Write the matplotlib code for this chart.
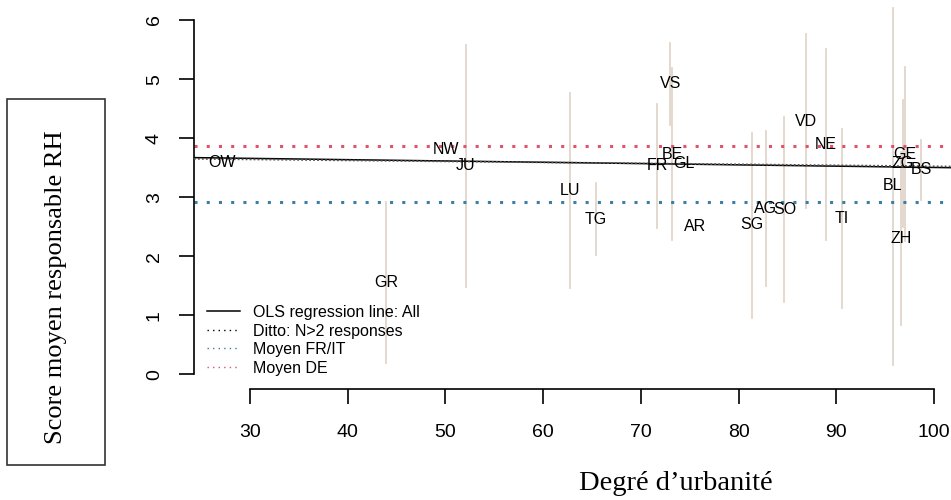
import numpy as np
import matplotlib.pyplot as plt
from matplotlib.lines import Line2D
from matplotlib.patches import Rectangle

# Canton data: degree of urbanity vs mean HR-responsibility score
cantons = ["OW", "GR", "NW", "JU", "LU", "TG", "FR", "VS", "BE", "GL", "AR",
           "SG", "AG", "SO", "VD", "NE", "TI", "BL", "ZH", "ZG", "GE", "BS"]
urbanite = [27.1, 43.9, 50.1, 52.1, 62.7, 65.4, 71.7, 73.0, 73.2, 74.4, 75.5,
            81.4, 82.8, 84.7, 86.9, 88.9, 90.6, 95.8, 96.6, 96.8, 97.0, 98.7]
score = [3.58, 1.56, 3.80, 3.54, 3.11, 2.63, 3.53, 4.92, 3.73, 3.57, 2.50,
         2.53, 2.81, 2.79, 4.28, 3.90, 2.64, 3.19, 2.30, 3.57, 3.73, 3.46]
# spread of the answers per canton (nan = too few responses)
score_low = [np.nan, 0.19, np.nan, 1.48, 1.46, 2.02, 2.47, 4.22, 2.27, np.nan, np.nan,
             0.95, 1.50, 1.22, 2.81, 2.28, 1.13, 0.16, 0.83, 2.50, 2.26, 2.95]
score_high = [np.nan, 2.92, np.nan, 5.58, 4.76, 3.24, 4.58, 5.61, 5.18, np.nan, np.nan,
              4.09, 4.12, 4.36, 5.76, 5.51, 4.15, 6.21, 3.77, 4.64, 5.20, 3.97]

# OLS fits (intercept, slope) and group means
ols_all = (3.723, -0.0022)
ols_n2 = (3.69, -0.00168)
moyen_fr_it = 2.92
moyen_de = 3.86

x_ticks = [30, 40, 50, 60, 70, 80, 90, 100]
y_ticks = [0, 1, 2, 3, 4, 5, 6]

sans = "Liberation Sans"
serif = "Liberation Serif"
col_range = "#e2d6ca"
col_blue = "#3b7ea6"
col_red = "#df536b"

fig = plt.figure(figsize=(9.51, 5.0), dpi=100)
ax = fig.add_axes([0.204, 0.222, 0.796, 0.778])
xlim = (24.27, 101.74)
ax.set_xlim(*xlim)
ax.set_ylim(-0.249, 6.339)

# vertical ranges
for xv, lo, hi in zip(urbanite, score_low, score_high):
    if np.isnan(lo):
        continue
    ax.plot([xv, xv], [lo, hi], color=col_range, lw=1.3, zorder=1)

ax.axhline(moyen_fr_it, color=col_blue, lw=2.2, ls=(0, (1, 3)),
           dash_capstyle="butt", zorder=2)
ax.axhline(moyen_de, color=col_red, lw=2.2, ls=(0, (1, 3)),
           dash_capstyle="butt", zorder=2)

xs = np.array(xlim)
ax.plot(xs, ols_all[0] + ols_all[1] * xs, color="black", lw=1.1, zorder=3)
ax.plot(xs, ols_n2[0] + ols_n2[1] * xs, color="#555555", lw=1.3,
        ls=(0, (1, 1.2)), zorder=3)

for name, xv, yv in zip(cantons, urbanite, score):
    ax.text(xv, yv, name, ha="center", va="center", fontsize=11.5,
            family=sans, zorder=4)

# R-style axes
for s in ["top", "right"]:
    ax.spines[s].set_visible(False)
ax.spines["left"].set_bounds(0, 6)
ax.spines["bottom"].set_bounds(30, 100)
for s in ["left", "bottom"]:
    ax.spines[s].set_linewidth(1.2)
ax.set_xticks(x_ticks)
ax.set_yticks(y_ticks)
ax.tick_params(axis="both", length=10.5, width=1.2, labelsize=14)
ax.tick_params(axis="x", pad=15)
ax.tick_params(axis="y", pad=12)
for lab in ax.get_xticklabels():
    lab.set_family(sans)
for lab in ax.get_yticklabels():
    lab.set_family(sans)
    lab.set_rotation(90)
    lab.set_va("center")

handles = [
    Line2D([], [], color="black", lw=1.1),
    Line2D([], [], color="black", lw=1.0, ls=(0, (1, 3))),
    Line2D([], [], color=col_blue, lw=1.0, ls=(0, (1, 3))),
    Line2D([], [], color=col_red, lw=1.0, ls=(0, (1, 3))),
]
labels = ["OLS regression line: All", "Ditto: N>2 responses",
          "Moyen FR/IT", "Moyen DE"]
fig.legend(handles, labels, loc="upper left",
           bbox_to_anchor=(206.7 / 951, 1 - 305 / 500),
           bbox_transform=fig.transFigure, frameon=False,
           prop={"family": sans, "size": 11.5}, borderpad=0,
           borderaxespad=0, handlelength=2.07, handletextpad=0.85,
           labelspacing=0.22)

# boxed y label and x label
fig.patches.append(Rectangle((7.3 / 951, 35 / 500), 97.7 / 951, 365.7 / 500,
                             transform=fig.transFigure, fill=False,
                             edgecolor="#333333", lw=1.2))
fig.text(56 / 951, 1 - 287.4 / 500, "Score moyen responsable RH", rotation=90,
         ha="center", va="center", family=serif, fontsize=19)
fig.text(676 / 951, 1 - 484 / 500, "Degré d\u2019urbanité", ha="center",
         va="center", family=serif, fontsize=20.5)

fig.savefig("out.png", dpi=100)
